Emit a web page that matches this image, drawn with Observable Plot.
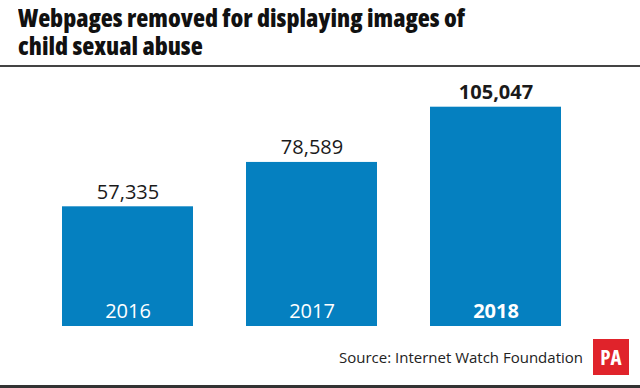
<!DOCTYPE html>
<html>
<head>
<meta charset="utf-8">
<script src="https://cdn.jsdelivr.net/npm/d3@7"></script>
<script src="https://cdn.jsdelivr.net/npm/@observablehq/plot@0.6"></script>
<style>
  html, body { margin: 0; padding: 0; background: #fff; }
  #wrap { position: relative; width: 640px; height: 388px; overflow: hidden; background: #fff; }
  #title { position: absolute; left: 18px; top: 2.5px; font-family: "Open Sans", "Roboto", sans-serif; font-stretch: 75%; font-weight: 800; font-size: 25px; line-height: 28.5px; color: #111; white-space: nowrap; }
  #title span { display: inline-block; transform-origin: 0 0; }
  #rule { position: absolute; left: 0; top: 64.5px; width: 640px; height: 2.5px; background: #444; }
  #chart { position: absolute; left: 0; top: 70px; }
  #source { position: absolute; right: 57px; top: 347px; font-family: "Open Sans", sans-serif; font-size: 15px; color: #222; white-space: nowrap; }
  #pa { position: absolute; left: 593px; top: 339px; width: 36px; height: 36px; background: #e0232b; color: #fff; font-family: "Open Sans", sans-serif; font-stretch: 75%; font-weight: bold; font-size: 21px; line-height: 36px; text-align: center; }
  #bottom { position: absolute; left: 0; top: 385px; width: 640px; height: 3px; background: #333; }
</style>
</head>
<body>
<div id="wrap">
  <div id="title"><span id="t1">Webpages removed for displaying images of</span><br><span id="t2">child sexual abuse</span></div>
  <div id="rule"></div>
  <div id="chart"></div>
  <div id="source">Source: Internet Watch Foundation</div>
  <div id="pa">PA</div>
  <div id="bottom"></div>
</div>
<script>
const years = ["2016", "2017", "2018"];
const values = [57335, 78589, 105047];
const valueLabels = ["57,335", "78,589", "105,047"];
const highlightYear = "2018";

const data = years.map((y, i) => ({ year: y, value: values[i], label: valueLabels[i], bold: y === highlightYear }));
const normal = data.filter(d => !d.bold);
const bold = data.filter(d => d.bold);
const font = "'Open Sans', sans-serif";

// fit title to the reference's condensed width (first line spans ~447px)
const t1 = document.getElementById("t1"), t2 = document.getElementById("t2");
const w1 = t1.getBoundingClientRect().width;
const s = 447 / w1;
t1.style.transform = `scaleX(${s})`;
t2.style.transform = `scaleX(${s})`;

const chart = Plot.plot({
  width: 640,
  height: 260,
  marginTop: 36.7,
  marginBottom: 4,
  marginLeft: 8.7,
  marginRight: 26.3,
  style: { fontFamily: font, background: "transparent" },
  x: { domain: years, padding: 0.288, axis: null },
  y: { domain: [0, 105047], axis: null },
  marks: [
    Plot.barY(data, { x: "year", y: "value", fill: "#0580c0" }),
    Plot.text(normal, { x: "year", y: "value", text: "label", lineAnchor: "bottom", dy: -8, fontSize: 20, fill: "#1a1a1a", fontFamily: font }),
    Plot.text(bold, { x: "year", y: "value", text: "label", lineAnchor: "bottom", dy: -8, fontSize: 20, fontWeight: "bold", fill: "#1a1a1a", fontFamily: font }),
    Plot.text(normal, { x: "year", y: d => 0, text: "year", lineAnchor: "bottom", dy: -9, fontSize: 20, fill: "#fff", fontFamily: font }),
    Plot.text(bold, { x: "year", y: d => 0, text: "year", lineAnchor: "bottom", dy: -9, fontSize: 20, fontWeight: "bold", fill: "#fff", fontFamily: font })
  ]
});
document.getElementById("chart").appendChild(chart);
</script>
</body>
</html>
